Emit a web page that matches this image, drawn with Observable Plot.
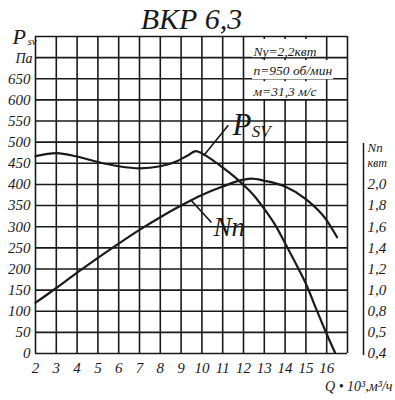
<!DOCTYPE html>
<html>
<head>
<meta charset="utf-8">
<script src="https://cdn.jsdelivr.net/npm/d3@7"></script>
<script src="https://cdn.jsdelivr.net/npm/@observablehq/plot@0.6"></script>
<style>
  html, body { margin: 0; padding: 0; background: #fff; }
</style>
</head>
<body>
<div id="chart"></div>
<script>
// ---- data ----
const title = "ВКР 6,3";
const gridQ = [2, 3, 4, 5, 6, 7, 8, 9, 10, 11, 12, 13, 14, 15, 16, 17];
const gridP = [0, 50, 100, 150, 200, 250, 300, 350, 400, 450, 500, 550, 600, 650, 700, 750];
const qTicks = [2, 3, 4, 5, 6, 7, 8, 9, 10, 11, 12, 13, 14, 15, 16];
const pTicks = [0, 50, 100, 150, 200, 250, 300, 350, 400, 450, 500, 550, 600, 650];
const nnTickValues = [2.0, 1.8, 1.6, 1.4, 1.2, 1.0, 0.8, 0.6, 0.4];
const nnTickLabels = ["2,0", "1,8", "1,6", "1,4", "1,2", "1,0", "0,8", "0,5", "0,4"];

// Psv (Pa) vs Q (10^3 m3/h)
const psvQ = [2, 3, 4, 5, 6, 7, 8, 8.8, 9.3, 9.7, 10.1, 10.5, 11, 11.5, 12, 12.5, 13, 13.5, 14, 14.5, 15, 15.5, 16, 16.4];
const psvP = [467, 474, 466, 453, 443, 438, 443, 455, 468, 479, 471, 458, 440, 421, 399, 374, 342, 306, 261, 214, 165, 105, 46, 2];

// Nn (kW) vs Q
const nnQ = [2, 3, 4, 5, 6, 7, 8, 9, 10, 11, 12, 12.4, 13, 14, 15, 16, 16.5];
const nnV = [0.88, 1.02, 1.165, 1.305, 1.44, 1.57, 1.69, 1.80, 1.90, 1.98, 2.045, 2.055, 2.035, 1.98, 1.86, 1.66, 1.50];

const specLines = ["Ny=2,2квт", "n=950 об/мин", "м=31,3 м/с"];
const xLabel = "Q • 10³,м³/ч";

// Nn axis maps 0.4 kW -> 0 Pa, 2.0 kW -> 400 Pa
const nnToP = v => (v - 0.4) * 250;

const psvData = psvQ.map((q, i) => ({q, p: psvP[i]}));
const nnData = nnQ.map((q, i) => ({q, p: nnToP(nnV[i])}));
const nnTicks = nnTickValues.map((v, i) => ({p: nnToP(v), label: nnTickLabels[i]}));

const ink = "#1a1a1a";

const chart = Plot.plot({
  width: 395,
  height: 400,
  marginTop: 36,
  marginBottom: 47,
  marginLeft: 35,
  marginRight: 48,
  x: {type: "linear", domain: [2, 17]},
  y: {type: "linear", domain: [0, 750]},
  style: {
    fontFamily: "'Liberation Serif', 'DejaVu Serif', serif",
    fontStyle: "italic",
    fontSize: "15px",
    background: "white",
    color: ink
  },
  marks: [
    Plot.ruleX(gridQ, {stroke: ink, strokeWidth: 1.6}),
    Plot.ruleY(gridP, {stroke: ink, strokeWidth: 1.6}),
    // white panels behind the spec text
    Plot.rect([
      {x1: 12.43, x2: 15.22, y1: 700, y2: 743},
      {x1: 12.43, x2: 16.33, y1: 648, y2: 693},
      {x1: 12.43, x2: 15.9, y1: 601, y2: 643}
    ], {x1: "x1", x2: "x2", y1: "y1", y2: "y2", fill: "white"}),
    Plot.text(specLines, {
      x: 12.48, y: (d, i) => [705, 658, 610][i], text: d => d,
      textAnchor: "start", lineAnchor: "bottom", fontSize: 13.5
    }),
    // curves
    Plot.line(psvData, {x: "q", y: "p", curve: "monotone-x", stroke: ink, strokeWidth: 2.2}),
    Plot.line(nnData, {x: "q", y: "p", curve: "monotone-x", stroke: ink, strokeWidth: 2.2}),
    // leaders + labels
    Plot.link([{a: 10.08, b: 468, c: 11.27, d: 540}, {a: 9.45, b: 364, c: 10.46, d: 310}],
      {x1: "a", y1: "b", x2: "c", y2: "d", stroke: ink, strokeWidth: 1.6}),
    Plot.text(["P"], {x: 11.47, y: 516, text: d => d, textAnchor: "start", lineAnchor: "bottom", fontSize: 31}),
    Plot.text(["SV"], {x: 12.4, y: 513, text: d => d, textAnchor: "start", lineAnchor: "bottom", fontSize: 17}),
    Plot.text(["Nn"], {x: 10.56, y: 279, text: d => d, textAnchor: "start", lineAnchor: "bottom", fontSize: 27}),
    // axes
    Plot.axisX(qTicks, {tickSize: 0, tickPadding: 9, label: null}),
    Plot.axisY(pTicks, {tickSize: 0, tickPadding: 5, label: null}),
    // left axis title
    Plot.text(["P"], {frameAnchor: "top-left", dx: -23, dy: 7, text: d => d, textAnchor: "start", lineAnchor: "bottom", fontSize: 22}),
    Plot.text(["sv"], {frameAnchor: "top-left", dx: -8, dy: 8, text: d => d, textAnchor: "start", lineAnchor: "bottom", fontSize: 11}),
    Plot.text(["Па"], {frameAnchor: "top-left", dx: -20, dy: 26, text: d => d, textAnchor: "start", lineAnchor: "bottom", fontSize: 14}),
    // right Nn axis
    Plot.ruleX([17], {y1: -5, y2: 497, dx: 16, stroke: ink, strokeWidth: 1.5}),
    Plot.text(nnTicks, {frameAnchor: "right", y: "p", text: "label", dx: 20, textAnchor: "start"}),
    Plot.text(["Nn"], {frameAnchor: "right", y: 476, text: d => d, dx: 20, textAnchor: "start", lineAnchor: "bottom", fontSize: 13}),
    Plot.text(["квт"], {frameAnchor: "right", y: 441, text: d => d, dx: 20, textAnchor: "start", lineAnchor: "bottom", fontSize: 12}),
    // x axis title
    Plot.text([xLabel], {frameAnchor: "bottom-right", dx: 45, dy: 37, text: d => d, textAnchor: "end", lineAnchor: "bottom", fontSize: 14}),
    // title
    Plot.text([title], {frameAnchor: "top", dy: -8, text: d => d, lineAnchor: "bottom", fontSize: 30})
  ]
});
document.getElementById("chart").appendChild(chart);
</script>
</body>
</html>
